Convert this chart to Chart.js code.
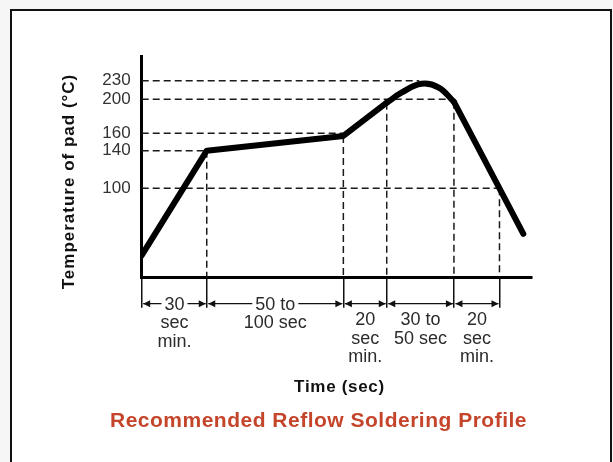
<!DOCTYPE html>
<html>
<head>
<meta charset="utf-8">
<script src="https://cdn.jsdelivr.net/npm/chart.js@4/dist/chart.umd.min.js"></script>
<style>
  html, body { margin: 0; padding: 0; background: #f6f6f6; }
  #marco { position: absolute; left: 10px; top: 9px; width: 598px; height: 460px; border: 2px solid #111; border-bottom: none; background: #fff; }
  #contenedor { position: absolute; left: 0; top: 0; width: 613px; height: 462px; }
</style>
</head>
<body>
<div id="marco"></div>
<div id="contenedor"><canvas id="grafico-perfil"></canvas></div>
<script>
// Datos del perfil (tiempo en s, temperatura en °C)
const tiempos = [0, 30, 93, 113, 120, 129, 137, 144, 165, 176];
const temperaturas = [25, 140, 157, 196, 211, 225, 219, 197, 100, 49];

// Tramo redondeado del pico (índices dentro de tiempos)
const picoDesde = 3;
const picoHasta = 7;

// Marcas de los ejes
const marcasTemp = [100, 140, 160, 200, 230];
const marcasTiempo = [0, 30, 93, 113, 144, 165];

// Hasta qué tiempo llega cada línea guía horizontal (mismo orden que marcasTemp)
const guiaTempHasta = [165, 30, 93, 144, 128];

// Textos de cada tramo de tiempo
const tramos = [['30', 'sec', 'min.'], ['50 to', '100 sec'], ['20', 'sec', 'min.'], ['30 to', '50 sec'], ['20', 'sec', 'min.']];
const tramoEnLinea = [true, true, false, false, false];

// --- ESCALA POR TRAMOS (el eje de temperatura del dibujo no es lineal) ---
class EscalaTramos extends Chart.LinearScale {
    static id = 'tramos';
    static defaults = Chart.LinearScale.defaults;

    getPixelForValue(value) {
        const q = this.options.quiebres;
        let f = 0;
        for (let i = 1; i < q.length; i++) {
            if (value <= q[i][0] || i === q.length - 1) {
                const [v0, f0] = q[i - 1];
                const [v1, f1] = q[i];
                f = f0 + (value - v0) / (v1 - v0) * (f1 - f0);
                break;
            }
        }
        return this.getPixelForDecimal(f);
    }

    getValueForPixel(pixel) {
        const q = this.options.quiebres;
        const f = this.getDecimalForPixel(pixel);
        for (let i = 1; i < q.length; i++) {
            if (f <= q[i][1] || i === q.length - 1) {
                const [v0, f0] = q[i - 1];
                const [v1, f1] = q[i];
                return v0 + (f - f0) / (f1 - f0) * (v1 - v0);
            }
        }
        return 0;
    }
}
Chart.register(EscalaTramos);

// --- DATASETS ---
const puntos = tiempos.map((t, i) => ({ x: t, y: temperaturas[i] }));

const estiloCurva = {
    borderColor: '#000',
    borderWidth: 6,
    pointRadius: 0,
    borderJoinStyle: 'round',
    borderCapStyle: 'round',
    fill: false
};

const estiloGuia = {
    borderColor: '#1a1a1a',
    borderWidth: 1.5,
    borderDash: [7, 4],
    pointRadius: 0,
    fill: false
};

const datasets = [
    { ...estiloCurva, tension: 0, data: puntos.slice(0, picoDesde + 1) },
    { ...estiloCurva, tension: 0.4, data: puntos.slice(picoDesde, picoHasta + 1) },
    { ...estiloCurva, tension: 0, data: puntos.slice(picoHasta) }
];

marcasTemp.forEach((v, i) => {
    datasets.push({ ...estiloGuia, data: [{ x: 0, y: v }, { x: guiaTempHasta[i], y: v }] });
});

marcasTiempo.slice(1).forEach(t => {
    const desde = temperaturas[tiempos.indexOf(t)];
    datasets.push({ ...estiloGuia, data: [{ x: t, y: desde }, { x: t, y: 0 }] });
});

// --- ANOTACIONES (cotas y títulos) ---
function punta(ctx, x, y, dir) {
    ctx.beginPath();
    ctx.moveTo(x, y);
    ctx.lineTo(x - dir * 7, y - 3.5);
    ctx.lineTo(x - dir * 7, y + 3.5);
    ctx.closePath();
    ctx.fill();
}

const anotaciones = {
    id: 'anotaciones',
    afterDraw(chart) {
        const ctx = chart.ctx;
        const xs = chart.scales.x;
        const base = chart.chartArea.bottom;
        const yCota = base + 26;

        ctx.save();
        ctx.fillStyle = '#111';
        ctx.strokeStyle = '#111';
        ctx.lineWidth = 1.2;
        ctx.font = '18px "Liberation Sans", Arial, sans-serif';
        ctx.textAlign = 'center';
        ctx.textBaseline = 'alphabetic';

        tramos.forEach((lineas, i) => {
            const xa = xs.getPixelForValue(marcasTiempo[i]) + 1.5;
            const xb = xs.getPixelForValue(marcasTiempo[i + 1]) - 1;
            const xm = (xa + xb) / 2;

            ctx.beginPath();
            if (tramoEnLinea[i]) {
                const w = ctx.measureText(lineas[0]).width / 2 + 3;
                ctx.moveTo(xa, yCota); ctx.lineTo(xm - w, yCota);
                ctx.moveTo(xm + w, yCota); ctx.lineTo(xb, yCota);
            } else {
                ctx.moveTo(xa, yCota); ctx.lineTo(xb, yCota);
            }
            ctx.stroke();
            punta(ctx, xa, yCota, -1);
            punta(ctx, xb, yCota, 1);

            ctx.fillStyle = '#2b2b2b';
            const y0 = tramoEnLinea[i] ? base + 32 : base + 47.5;
            lineas.forEach((txt, k) => ctx.fillText(txt, xm, y0 + k * 18.5));
            ctx.fillStyle = '#111';
        });

        // Título del eje Y
        ctx.save();
        ctx.translate(69, 181.5);
        ctx.rotate(-Math.PI / 2);
        ctx.font = 'bold 17px "Liberation Sans", Arial, sans-serif';
        ctx.letterSpacing = '1px';
        ctx.textBaseline = 'middle';
        ctx.fillText('Temperature of pad (°C)', 0, 0);
        ctx.restore();

        // Título del eje X
        ctx.save();
        ctx.font = 'bold 17px "Liberation Sans", Arial, sans-serif';
        ctx.letterSpacing = '0.7px';
        ctx.textBaseline = 'middle';
        ctx.fillText('Time (sec)', 339.5, 387);
        ctx.restore();

        // Título principal
        ctx.font = 'bold 21px "Liberation Sans", Arial, sans-serif';
        ctx.letterSpacing = '0.5px';
        ctx.textBaseline = 'middle';
        ctx.fillStyle = '#c5452b';
        ctx.fillText('Recommended Reflow Soldering Profile', 318.5, 421);
        ctx.restore();
    }
};

// --- GRÁFICO ---
const ctx = document.getElementById('grafico-perfil').getContext('2d');

new Chart(ctx, {
    type: 'line',
    data: { datasets },
    plugins: [anotaciones],
    options: {
        responsive: true,
        maintainAspectRatio: false,
        animation: false,
        events: [],
        layout: { padding: { left: 0, top: 56.7, right: 81, bottom: 174.3 } },
        plugins: { legend: { display: false }, tooltip: { enabled: false } },
        scales: {
            x: {
                type: 'linear',
                min: 0,
                max: 180,
                afterBuildTicks: s => { s.ticks = marcasTiempo.map(v => ({ value: v })); },
                afterFit: s => { s.height = 10; },
                ticks: { display: false },
                grid: { drawOnChartArea: false, drawTicks: true, tickLength: 30, color: '#111', lineWidth: 1.5 },
                border: { display: true, color: '#000', width: 3 }
            },
            y: {
                type: 'tramos',
                min: 0,
                max: 260,
                quiebres: [[0, 0], [100, 0.4045], [140, 0.5747], [160, 0.6534], [200, 0.8072], [230, 0.8914], [260, 1]],
                afterBuildTicks: s => { s.ticks = marcasTemp.map(v => ({ value: v })); },
                afterFit: s => { s.width = 141.7; },
                ticks: {
                    padding: 11,
                    color: '#333',
                    font: { family: '"Liberation Sans", Arial, sans-serif', size: 17 }
                },
                grid: { drawOnChartArea: false, drawTicks: false },
                border: { display: true, color: '#000', width: 3 }
            }
        }
    }
});
</script>
</body>
</html>
